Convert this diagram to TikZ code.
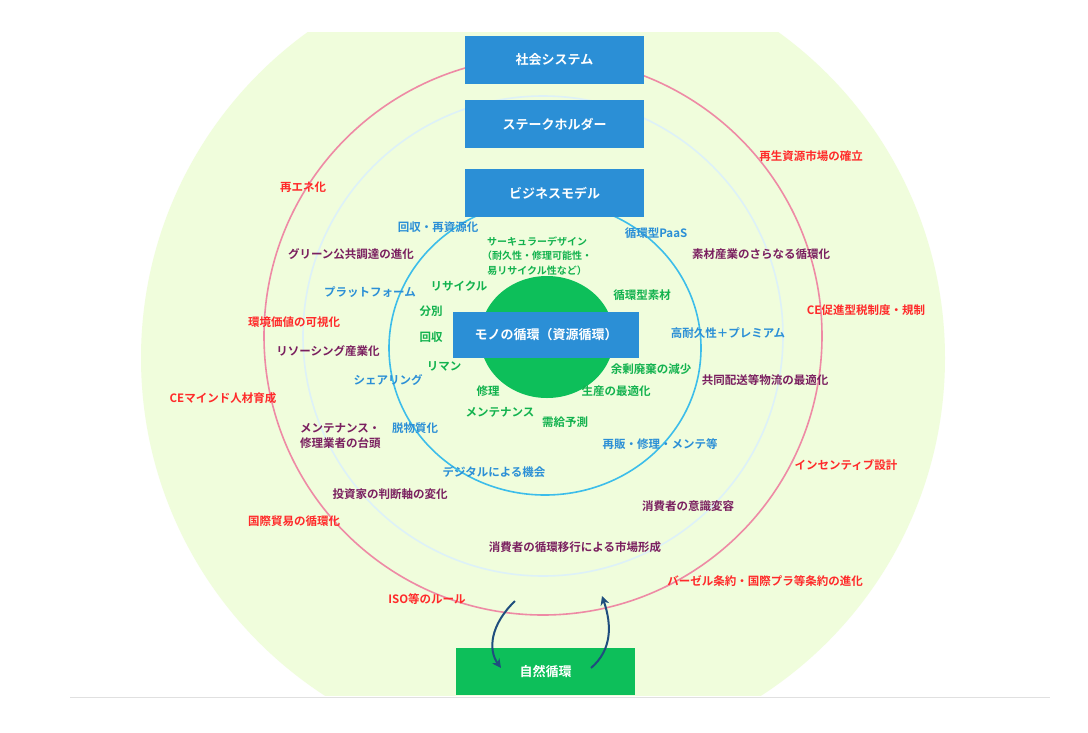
\documentclass[tikz,border=0pt]{standalone}
\usepackage{fontspec}
\setmainfont{Noto Sans CJK JP}[BoldFont={* Bold}]
\usetikzlibrary{arrows.meta}
\definecolor{bgg}{HTML}{F0FDDC}
\definecolor{bbox}{HTML}{2B8FD6}
\definecolor{gbox}{HTML}{0DBF5A}
\definecolor{rtx}{HTML}{FF2A2A}
\definecolor{ptx}{HTML}{7A1F5F}
\definecolor{btx}{HTML}{2B8FD6}
\definecolor{gtx}{HTML}{12B24E}
\definecolor{pinkc}{HTML}{EE8AA5}
\definecolor{lbc}{HTML}{DDF1F8}
\definecolor{blc}{HTML}{3CBDEA}
\definecolor{navy}{HTML}{1F4E7E}
\tikzset{
 boxb/.style={fill=bbox,minimum width=179pt,minimum height=48pt,inner sep=0pt,text=white,font=\bfseries\fontsize{13}{15}\selectfont},
 rl/.style={text=rtx,font=\bfseries\fontsize{11.5}{14}\selectfont,inner sep=0pt},
 pl/.style={text=ptx,font=\bfseries\fontsize{11.5}{15}\selectfont,inner sep=0pt},
 bl/.style={text=btx,font=\bfseries\fontsize{11.5}{14}\selectfont,inner sep=0pt},
 gl/.style={text=gtx,font=\bfseries\fontsize{11.5}{14}\selectfont,inner sep=0pt},
 arr/.style={navy,line width=2pt,-{Stealth[length=9pt,width=9pt]}}
}
\begin{document}
\begin{tikzpicture}[x=1pt,y=-1pt]
\useasboundingbox (0,0) rectangle (1088,732);
\fill[white] (0,0) rectangle (1088,732);
\begin{scope}
\clip (0,32) rectangle (1088,695);
\fill[bgg] (543,358) circle (402);
\end{scope}
\draw[black!12,line width=0.8pt] (70,697) -- (1050,697);
\draw[pinkc,line width=1.6pt] (543,336) circle (279);
\draw[lbc,line width=1.6pt] (543,336) circle (240);
\draw[blc,line width=1.6pt] (545,348) ellipse (156 and 147);
\fill[gbox] (547,337) ellipse (67 and 61);
\node[boxb] (soc) at (554.5,60) {社会システム};
\node[boxb] (stk) at (554.5,124) {ステークホルダー};
\node[boxb] (biz) at (554.5,193) {ビジネスモデル};
\node[boxb,minimum width=186pt,minimum height=46pt] (mono) at (546,335) {モノの循環（資源循環）};
\node[boxb,fill=gbox,minimum height=47pt] (nat) at (545.5,671.5) {自然循環};
\coordinate (a1) at (515,601);
\coordinate (a2) at (501,668);
\coordinate (b1) at (591,668);
\coordinate (b2) at (602,596);
\draw[arr] (a1) .. controls (490,625) and (488,650) .. (a2);
\draw[arr] (b1) .. controls (612,650) and (612,625) .. (b2);
% red
\node[rl] (r1) at (811,156) {再生資源市場の確立};
\node[rl] (r2) at (303,187) {再エネ化};
\node[rl] (r3) at (866,310) {CE促進型税制度・規制};
\node[rl] (r4) at (294,322) {環境価値の可視化};
\node[rl] (r5) at (223,398) {CEマインド人材育成};
\node[rl] (r6) at (846,465) {インセンティブ設計};
\node[rl] (r7) at (294,521) {国際貿易の循環化};
\node[rl] (r8) at (765,581) {バーゼル条約・国際プラ等条約の進化};
\node[rl] (r9) at (427,599) {ISO等のルール};
% purple
\node[pl] (p1) at (351,254) {グリーン公共調達の進化};
\node[pl] (p2) at (761,254) {素材産業のさらなる循環化};
\node[pl] (p3) at (328,351) {リソーシング産業化};
\node[pl] (p4) at (765,380) {共同配送等物流の最適化};
\node[pl,align=left,anchor=west] (p5) at (300,436) {メンテナンス・\\修理業者の台頭};
\node[pl] (p6) at (390,494) {投資家の判断軸の変化};
\node[pl] (p7) at (688,506) {消費者の意識変容};
\node[pl] (p8) at (575,547) {消費者の循環移行による市場形成};
% blue
\node[bl] (b01) at (438,227) {回収・再資源化};
\node[bl] (b02) at (656,233) {循環型PaaS};
\node[bl] (b03) at (370,292) {プラットフォーム};
\node[bl] (b04) at (728,333) {高耐久性＋プレミアム};
\node[bl] (b05) at (388,380) {シェアリング};
\node[bl] (b06) at (415,428) {脱物質化};
\node[bl] (b07) at (660,444) {再販・修理・メンテ等};
\node[bl] (b08) at (494,472) {デジタルによる機会};
% green
\node[gl,align=center,font=\bfseries\fontsize{10}{14.5}\selectfont] (g0) at (537,256) {サーキュラーデザイン\\（耐久性・修理可能性・\\易リサイクル性など）};
\node[gl] (g1) at (459,286) {リサイクル};
\node[gl] (g2) at (642,295) {循環型素材};
\node[gl] (g3) at (431,311) {分別};
\node[gl] (g4) at (431,337) {回収};
\node[gl] (g5) at (444,366) {リマン};
\node[gl] (g6) at (651,369) {余剰廃棄の減少};
\node[gl] (g7) at (488,391) {修理};
\node[gl] (g8) at (616,391) {生産の最適化};
\node[gl] (g9) at (500,412) {メンテナンス};
\node[gl] (g10) at (565,422) {需給予測};
\end{tikzpicture}
\end{document}
